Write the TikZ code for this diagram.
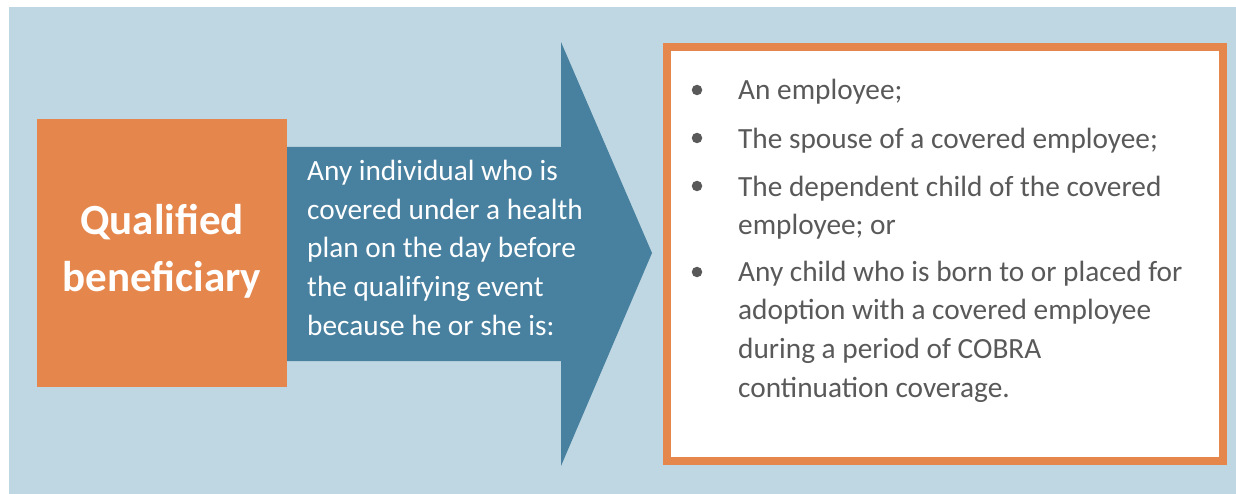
\documentclass[tikz,border=0pt]{standalone}
\usepackage{fontspec}
\setmainfont{Carlito}
\definecolor{bgblue}{HTML}{BFD7E2}
\definecolor{orng}{HTML}{E5874D}
\definecolor{arrblue}{HTML}{48809F}
\definecolor{txtgray}{HTML}{595959}
\tikzset{
  bodytext/.style={font=\fontsize{29.3}{38.6}\selectfont, inner sep=0pt, align=left},
  listtext/.style={bodytext, text=txtgray, anchor=base west},
  bulletdot/.style={circle, fill=txtgray, inner sep=0pt, minimum size=10.5pt},
}
\begin{document}
\begin{tikzpicture}[x=1pt,y=-1pt]
\useasboundingbox (0,0) rectangle (1236,494);
\fill[white] (0,0) rectangle (1236,494);
\fill[bgblue] (9,7) rectangle (1236,494);
% arrow
\fill[arrblue] (270,147) -- (561,147) -- (561,42) -- (652,253) -- (561,466) -- (561,361) -- (270,361) -- cycle;
\coordinate (arrowtip) at (652,253);
% orange box
\node[fill=orng, minimum width=250pt, minimum height=268pt, inner sep=0pt] (qb) at (162,253) {};
\node[text=white, font=\fontsize{43}{57}\selectfont\bfseries, align=center, inner sep=0pt] (qbt) at (162,251) {Qualified\\beneficiary};
% arrow text
\node[bodytext, text=white, anchor=base west] (def) at (307,335) {Any individual who is\\covered under a health\\plan on the day before\\the qualifying event\\because he or she is:};
% right box
\node[draw=orng, line width=8pt, fill=white, minimum width=556pt, minimum height=414pt, inner sep=0pt] (list) at (945,254) {};
\node[listtext] (i1) at (738,100) {An employee;};
\node[listtext] (i2) at (738,149) {The spouse of a covered employee;};
\node[listtext] (i3) at (738,235) {The dependent child of the covered\\employee; or};
\node[listtext] (i4) at (738,397) {Any child who is born to or placed for\\adoption with a covered employee\\during a period of COBRA\\continuation coverage.};
\node[bulletdot] (b1) at (697,90) {};
\node[bulletdot] (b2) at (697,138) {};
\node[bulletdot] (b3) at (697,186) {};
\node[bulletdot] (b4) at (697,272) {};
\end{tikzpicture}
\end{document}
